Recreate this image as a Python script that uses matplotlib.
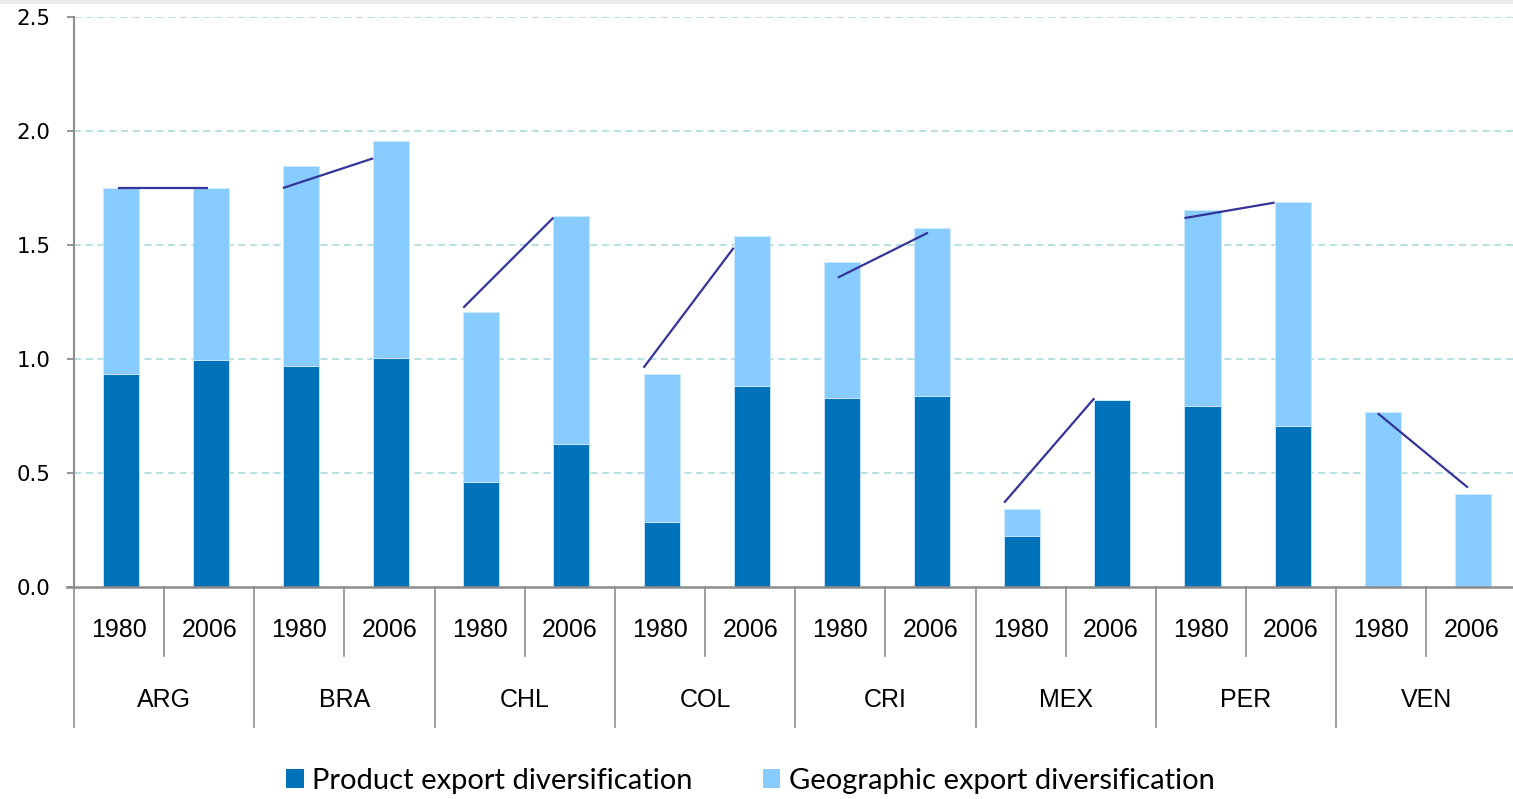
import matplotlib
matplotlib.use('Agg')
import matplotlib.pyplot as plt
import matplotlib.transforms as mtransforms
from matplotlib.patches import Rectangle, Patch
import numpy as np

countries = ['ARG', 'BRA', 'CHL', 'COL', 'CRI', 'MEX', 'PER', 'VEN']
years = ['1980', '2006']
product_1980 = [0.934, 0.969, 0.461, 0.285, 0.829, 0.224, 0.794, 0.0]
product_2006 = [0.996, 1.004, 0.627, 0.882, 0.838, 0.820, 0.706, 0.0]
geographic_1980 = [0.815, 0.876, 0.745, 0.649, 0.596, 0.117, 0.860, 0.768]
geographic_2006 = [0.753, 0.953, 1.000, 0.656, 0.735, 0.0, 0.981, 0.409]
overall_1980 = [1.75, 1.75, 1.225, 0.962, 1.357, 0.37, 1.618, 0.762]
overall_2006 = [1.75, 1.88, 1.62, 1.488, 1.554, 0.828, 1.686, 0.436]
yticks = [0.0, 0.5, 1.0, 1.5, 2.0, 2.5]

DARK = '#0072BA'
LIGHT = '#87CBFF'
LINE = '#34349A'
GRID = '#b3dde2'
AXC = '#8c8c8c'
LABEL_FONT = ['Liberation Sans', 'DejaVu Sans']

W, H = 1513, 799
fig = plt.figure(figsize=(W / 100, H / 100), dpi=100)
fig.patches.append(Rectangle((0, 1 - 4 / H), 1, 4 / H, transform=fig.transFigure,
                             facecolor='#ebebeb', edgecolor='none', zorder=0))
slot_px = 90.15
n = len(countries)
ax = fig.add_axes([74 / W, 1 - 587 / H, 2 * n * slot_px / W, (587 - 17) / H])

width = 0.4
bar_off = 0.018
line_shift = [0.166, 0, 0, 0, 0.155, 0, 0, 0.144]
for j, (prod, geo) in enumerate([(product_1980, geographic_1980), (product_2006, geographic_2006)]):
    xs = np.arange(n) * 2 + j + 0.5 + bar_off
    ax.bar(xs, prod, width=width, color=DARK, edgecolor='#cfe9ff', linewidth=0.6, zorder=3)
    ax.bar(xs, geo, width=width, bottom=prod, color=LIGHT, edgecolor='#cfe9ff', linewidth=0.6, zorder=3)

for i in range(n):
    x0 = 2 * i + 0.5 + bar_off - width / 2 + line_shift[i]
    x1 = 2 * i + 1.5 + bar_off - width / 2 + line_shift[i]
    ax.plot([x0, x1], [overall_1980[i], overall_2006[i]], color=LINE, lw=1.6,
            solid_capstyle='butt', zorder=4)

ax.set_xlim(0, 2 * n)
ax.set_ylim(0, 2.5)
for y in yticks[1:]:
    ax.axhline(y, color=GRID, lw=1.3, linestyle=(0, (4, 2.5)), zorder=1)

for s in ['top', 'right']:
    ax.spines[s].set_visible(False)
ax.spines['left'].set_color(AXC)
ax.spines['left'].set_linewidth(1.5)
ax.spines['left'].set_zorder(5)
ax.spines['bottom'].set_color(AXC)
ax.spines['bottom'].set_linewidth(1.8)
ax.spines['bottom'].set_zorder(5)
ax.spines['bottom'].set_bounds(-7 / slot_px, 2 * n)

ax.set_yticks(yticks)
ax.set_yticklabels([f'{v:.1f}' for v in yticks], fontsize=15.4, family='DejaVu Sans')
ax.tick_params(axis='y', length=5, width=1.3, color=AXC, pad=12)
ax.set_xticks([])

trans = mtransforms.blended_transform_factory(ax.transData, ax.transAxes)
hpx = 570.0
for i in range(n):
    ax.plot([2 * i + 1, 2 * i + 1], [0, -69 / hpx], transform=trans, color=AXC, lw=1.2, clip_on=False)
    for j, yr in enumerate(years):
        ax.text(2 * i + j + 0.5, -43 / hpx, yr, transform=trans, ha='center', va='center',
                fontsize=18, family=LABEL_FONT)
    ax.text(2 * i + 1, -113 / hpx, countries[i], transform=trans, ha='center', va='center',
            fontsize=18, family=LABEL_FONT)
for i in range(n + 1):
    ax.plot([2 * i, 2 * i], [0, -140 / hpx], transform=trans, color=AXC, lw=1.2, clip_on=False)

handles = [Patch(facecolor=DARK, edgecolor='none'), Patch(facecolor=LIGHT, edgecolor='none')]
fig.legend(handles, ['Product export diversification', 'Geographic export diversification'],
           loc='center', bbox_to_anchor=(0.496, 1 - 781 / H), ncol=2, frameon=False,
           prop={'family': 'Lato', 'size': 21}, handlelength=0.6, handleheight=0.6,
           handletextpad=0.3, columnspacing=2.4, borderaxespad=0)

fig.savefig('out.png', dpi=100)
